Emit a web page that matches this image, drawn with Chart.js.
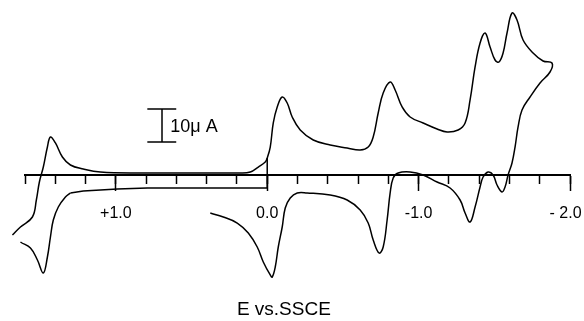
<!DOCTYPE html>
<html>
<head>
<meta charset="utf-8">
<script src="https://cdn.jsdelivr.net/npm/chart.js@4.4.1/dist/chart.umd.min.js"></script>
<style>
  html, body { margin: 0; padding: 0; background: #fff; }
  #wrap { width: 584px; height: 321px; }
</style>
</head>
<body>
<div id="wrap"><canvas id="cv"></canvas></div>
<script>
// potential in V vs SSCE, current in uA (cathodic up)
// box: switch line at 0.0 and the anodic base line
const boxE = [0.000, 0.000, 0.198, 0.594, 0.792, 0.990, 1.102, 1.215, 1.300];
const boxI = [5.15, -3.94, -3.94, -3.94, -3.94, -4.24, -4.55, -4.85, -5.45];

// positive scan out to the switch point
const posOutE = [1.300, 1.333, 1.380, 1.413, 1.432, 1.452, 1.479, 1.518, 1.564, 1.630, 1.683];
const posOutI = [-5.45, -6.67, -9.70, -13.64, -18.79, -24.85, -29.70, -25.76, -22.12, -20.30, -18.18];

// back from +1.7 through 0.0 down to the negative switch
const negOutE = [1.683, 1.630, 1.551, 1.525, 1.505, 1.479, 1.452, 1.432, 1.399, 1.353, 1.300, 1.215,
  1.102, 0.838, 0.442, 0.178, 0.112, 0.059, 0.013, 0.000, -0.020, -0.040, -0.066, -0.099, -0.132,
  -0.165, -0.218, -0.304, -0.416, -0.528, -0.614, -0.667, -0.700, -0.733, -0.766, -0.812, -0.845,
  -0.891, -0.944, -1.030, -1.122, -1.188, -1.261, -1.307, -1.340, -1.373, -1.406, -1.439, -1.472,
  -1.505, -1.531, -1.558, -1.584, -1.617, -1.650, -1.690, -1.756, -1.822];
const negOutI = [-18.18, -15.76, -12.73, -7.58, -2.12, 2.42, 8.48, 11.52, 9.70, 5.45, 3.03, 1.82,
  0.91, 0.61, 0.61, 0.61, 0.91, 2.42, 3.94, 5.15, 8.48, 15.76, 20.61, 23.64, 21.82,
  17.58, 13.64, 10.61, 9.09, 8.18, 7.58, 8.48, 11.52, 18.79, 24.85, 28.18, 25.76,
  20.61, 17.58, 15.76, 13.94, 13.03, 13.64, 15.76, 22.73, 32.73, 40.00, 43.03, 38.79,
  34.85, 34.24, 36.97, 43.03, 49.09, 46.97, 40.91, 36.97, 34.55];

// round the turn at -1.9 and come back to +0.4
const backE = [-1.881, -1.868, -1.802, -1.736, -1.683, -1.657, -1.637, -1.617, -1.591, -1.571, -1.551,
  -1.518, -1.492, -1.459, -1.426, -1.406, -1.373, -1.340, -1.307, -1.274, -1.208, -1.122, -1.030,
  -0.944, -0.865, -0.832, -0.812, -0.792, -0.766, -0.739, -0.700, -0.667, -0.614, -0.528, -0.416,
  -0.264, -0.198, -0.152, -0.119, -0.099, -0.073, -0.053, -0.033, -0.020, 0.026, 0.066, 0.125,
  0.198, 0.290, 0.376];
const backI = [33.94, 31.21, 27.88, 23.64, 19.70, 14.55, 8.48, 3.64, 0.00, -3.64, -5.15,
  -3.03, 0.00, 0.91, -0.61, -3.64, -9.70, -14.24, -11.52, -7.58, -3.94, -2.12, 0.00,
  0.91, 0.61, -0.91, -5.45, -13.64, -21.82, -23.64, -19.70, -14.55, -10.61, -7.58, -6.06,
  -5.45, -5.45, -6.97, -10.00, -15.76, -21.82, -27.88, -30.91, -30.30, -26.36, -21.82, -17.58,
  -14.55, -12.73, -11.52];

// 10 uA scale bar
const barE = [0.792, 0.601, 0.695, 0.695, 0.792, 0.601];
const barI = [20, 20, 20, 10, 10, 10];

// axis labels
const tickValues = [1, 0, -1, -2];
const tickLabels = ['+1.0', '0.0', '-1.0', '- 2.0  '];

const FONT = '"Liberation Sans", Arial, sans-serif';

function pts(xs, ys) {
  return xs.map((x, i) => ({ x: x, y: ys[i] }));
}

function trace(xs, ys, tension) {
  return {
    data: pts(xs, ys),
    showLine: true,
    borderColor: '#000',
    borderWidth: 1.5,
    pointRadius: 0,
    tension: tension,
    clip: false
  };
}

// text labels placed with the scales
const textPlugin = {
  id: 'texts',
  afterDraw(chart) {
    const ctx = chart.ctx;
    const sx = chart.scales.x, sy = chart.scales.y;
    ctx.save();
    ctx.fillStyle = '#000';
    ctx.textBaseline = 'middle';
    ctx.font = '18px ' + FONT;
    ctx.textAlign = 'left';
    ctx.fillText('10\u03bc A', sx.getPixelForValue(0.64), sy.getPixelForValue(14.5));
    ctx.font = '19px ' + FONT;
    ctx.textAlign = 'center';
    ctx.fillText('E vs.SSCE', sx.getPixelForValue(-0.11), sy.getPixelForValue(-40.9));
    ctx.restore();
  }
};

function noPad(scale) {
  scale.paddingLeft = 0;
  scale.paddingRight = 0;
}

new Chart(document.getElementById('cv'), {
  type: 'scatter',
  data: {
    datasets: [
      trace(boxE, boxI, 0),
      trace(posOutE, posOutI, 0.4),
      trace(negOutE.concat(backE), negOutI.concat(backI), 0.4),
      trace(barE, barI, 0)
    ]
  },
  options: {
    responsive: true,
    maintainAspectRatio: false,
    animation: false,
    layout: { padding: { left: 25, right: 14, top: 0, bottom: 31 } },
    plugins: { legend: { display: false }, tooltip: { enabled: false } },
    scales: {
      x: {
        type: 'linear',
        min: -2.0,
        max: 1.6,
        reverse: true,
        position: { y: 0 },
        border: { display: true, color: '#000', width: 2 },
        grid: {
          drawOnChartArea: false,
          tickLength: 15,
          tickWidth: 1.5,
          tickColor: c => tickValues.includes(c.tick.value) ? '#000' : 'rgba(0,0,0,0)'
        },
        ticks: {
          stepSize: 1,
          padding: 14,
          color: '#000',
          maxRotation: 0,
          autoSkip: false,
          font: { family: FONT, size: 16 },
          callback: v => {
            const i = tickValues.indexOf(v);
            return i >= 0 ? tickLabels[i] : '';
          }
        },
        afterFit: noPad
      },
      x2: {
        type: 'linear',
        axis: 'x',
        min: -2.0,
        max: 1.6,
        reverse: true,
        position: { y: 0 },
        border: { display: true, color: '#000', width: 2 },
        grid: { drawOnChartArea: false, tickLength: 8, tickWidth: 1.5, tickColor: '#000' },
        ticks: { stepSize: 0.2, autoSkip: false, maxRotation: 0, callback: () => '' },
        afterFit: noPad
      },
      y: {
        type: 'linear',
        min: -34.85,
        max: 53.03,
        display: false
      }
    }
  },
  plugins: [textPlugin]
});
</script>
</body>
</html>
